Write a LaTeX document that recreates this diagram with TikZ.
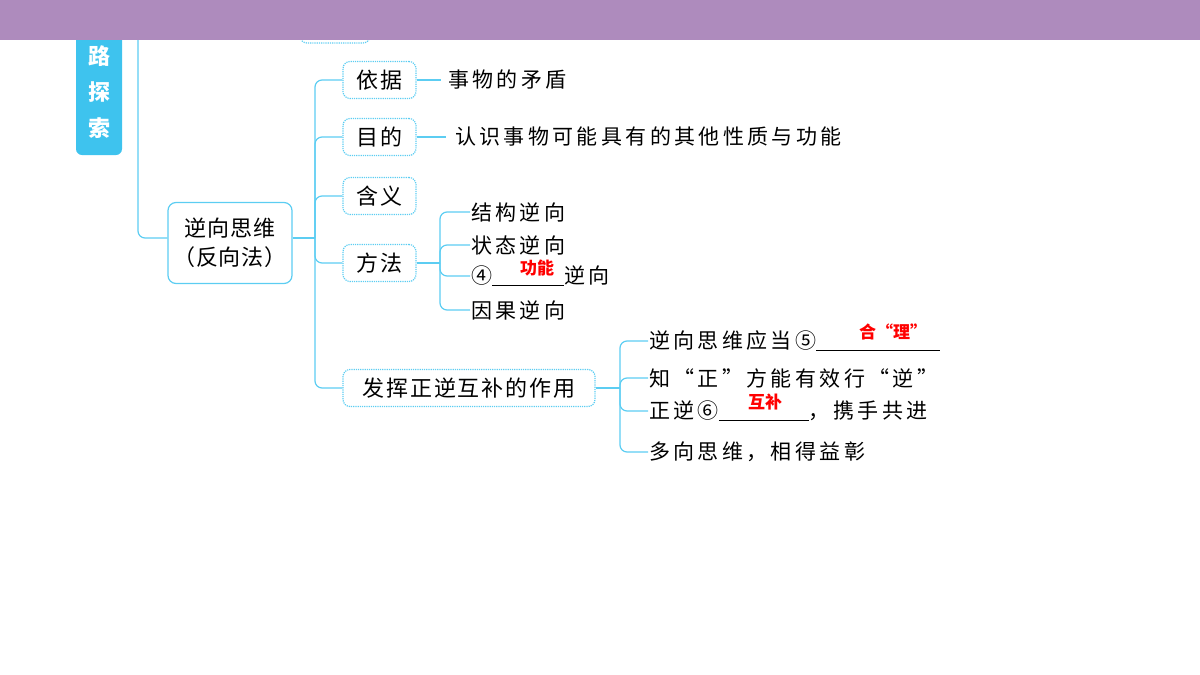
\documentclass[tikz,border=0pt]{standalone}
\usepackage{fontspec}
\setmainfont{Noto Sans CJK SC}
\usetikzlibrary{positioning}
\definecolor{bandpurple}{HTML}{AE8BBD}
\definecolor{tabblue}{HTML}{3EC3EE}
\definecolor{linecyan}{HTML}{5CCDF2}
\tikzset{
  conn/.style={draw=linecyan, line width=1.2pt, rounded corners=7pt},
  mainbox/.style={draw=linecyan, line width=1.2pt, rounded corners=8pt, align=center, font=\fontsize{22}{29}\selectfont\addfontfeature{LetterSpace=4}, minimum width=124pt, minimum height=81pt, inner sep=2pt},
  dashbox/.style={draw=linecyan, densely dotted, line width=1.2pt, rounded corners=7pt, font=\fontsize{22}{25}\selectfont\addfontfeature{LetterSpace=8}, minimum height=37pt, minimum width=73pt, inner sep=3pt},
  leaf/.style={anchor=west, inner sep=1pt, font=\fontsize{21}{22}\selectfont\addfontfeature{LetterSpace=16}},
  answer/.style={text=red, font=\fontsize{17}{20}\selectfont\bfseries},
  tabtext/.style={text=white, font=\fontsize{22}{24}\selectfont\bfseries}
}
\begin{document}
\begin{tikzpicture}[x=1pt,y=-1pt]
  \useasboundingbox (0,0) rectangle (1200,675);
  % left tab and header band
  \fill[tabblue, rounded corners=6pt] (76,10) rectangle (122,155);
  \node[tabtext] (lu) at (99,56) {路};
  \node[tabtext] (tan) at (99,92) {探};
  \node[tabtext] (suo) at (99,128) {索};
  \draw[draw=linecyan, densely dotted, line width=1.2pt, rounded corners=7pt] (300,10) rectangle (370,43);
  \fill[bandpurple] (0,0) rectangle (1200,40);

  % main node and branches
  \node[mainbox] (main) at (230,243) {逆向思维\\（反向法）};
  \coordinate (tk) at (315,238);
  \draw[conn] (138,40) |- (main.west |- tk);
  \draw[conn] (main.east |- tk) -- (tk);

  \node[dashbox] (yiju) at (379.5,80) {依据};
  \node[dashbox] (mudi) at (379.5,137) {目的};
  \node[dashbox] (hanyi) at (379.5,196) {含义};
  \node[dashbox] (fangfa) at (379.5,263) {方法};
  \node[dashbox, minimum width=252pt] (fahui) at (469,388) {发挥正逆互补的作用};
  \foreach \n in {yiju,mudi,hanyi,fangfa,fahui}
    \draw[conn] (tk) |- (\n.west);

  % leaves of the first two branches
  \node[leaf] (maodun) at (447,80) {事物的矛盾};
  \draw[conn] (yiju.east) -- ++(24,0);
  \node[leaf] (gongneng) at (454,137) {认识事物可能具有的其他性质与功能};
  \draw[conn] (mudi.east) -- ++(29,0);

  % method leaves
  \coordinate (ff) at (440,263);
  \draw[conn] (fangfa.east) -- (ff);
  \node[leaf] (jiegou) at (470,212) {结构逆向};
  \node[leaf] (zhuangtai) at (470,245) {状态逆向};
  \node[leaf] (gnnx) at (470,276) {④\underline{\hspace{72pt}}逆向};
  \node[leaf] (yinguo) at (470,310) {因果逆向};
  \foreach \n in {jiegou,zhuangtai,gnnx,yinguo}
    \draw[conn] (ff) |- (\n.west);
  \node[answer] (ans4) at (537,268) {功能};

  % role leaves
  \coordinate (fh) at (620,388);
  \draw[conn] (fahui.east) -- (fh);
  \node[leaf] (heli) at (648,341) {逆向思维应当⑤\underline{\hspace{124pt}}};
  \node[leaf] (zhizheng) at (648,378) {知“正”方能有效行“逆”};
  \node[leaf] (zhengni) at (648,411) {正逆⑥\underline{\hspace{90pt}}，携手共进};
  \node[leaf] (duoxiang) at (648,452) {多向思维，相得益彰};
  \foreach \n in {heli,zhizheng,zhengni,duoxiang}
    \draw[conn] (fh) |- (\n.west);
  \node[answer] (ans5) at (893,332) {合“理”};
  \node[answer] (ans6) at (765,402) {互补};
\end{tikzpicture}
\end{document}
